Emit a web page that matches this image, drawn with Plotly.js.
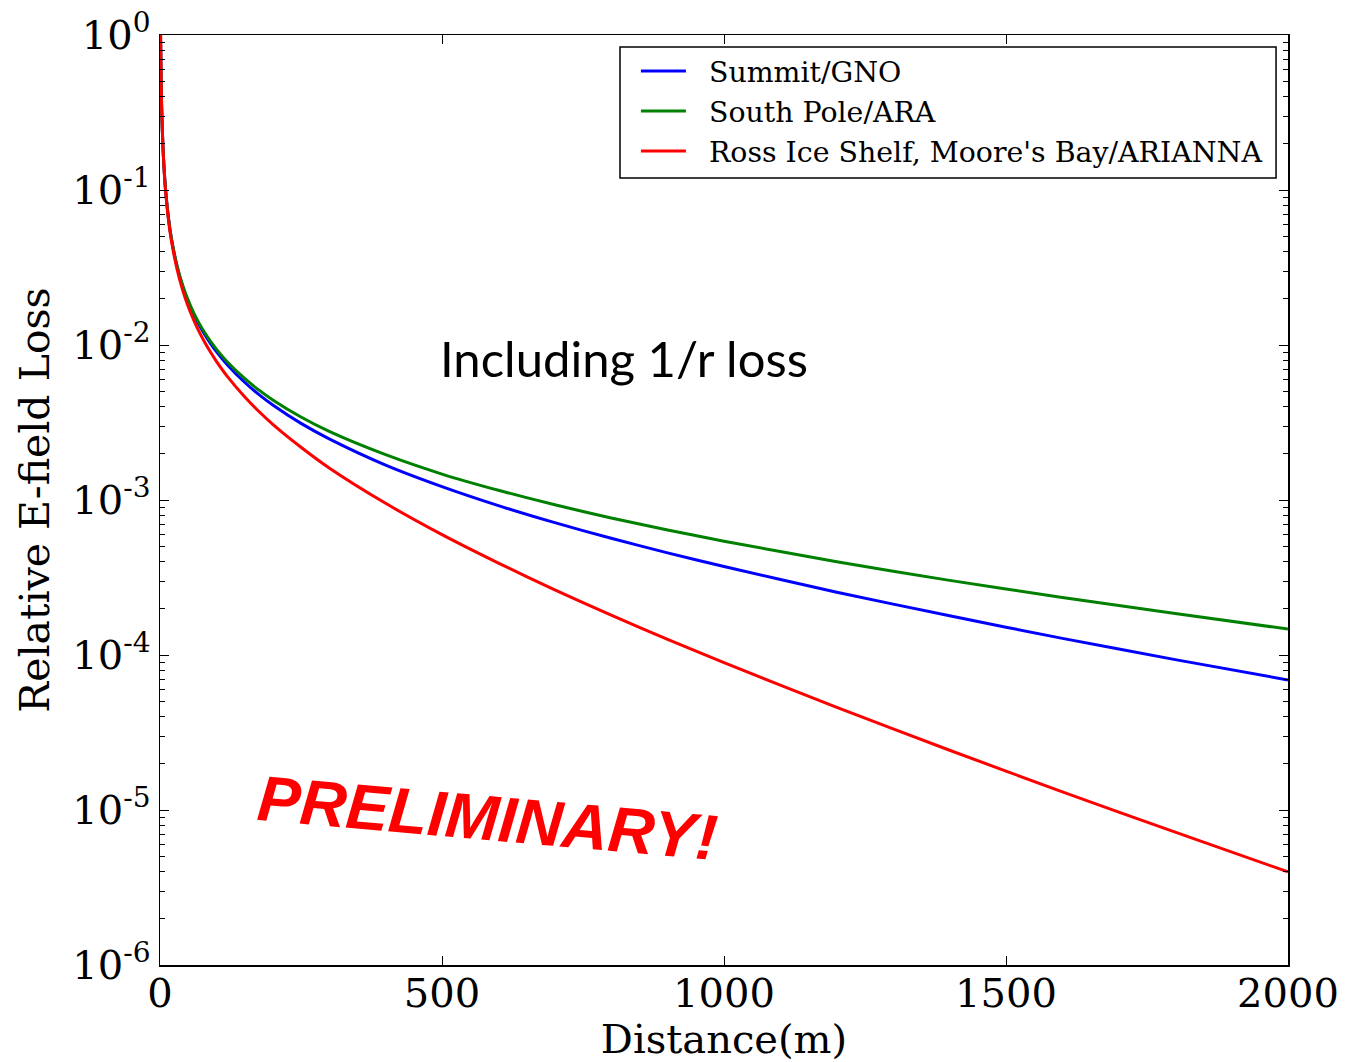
<!DOCTYPE html>
<html>
<head>
<meta charset="utf-8">
<script src="https://cdn.plot.ly/plotly-3.0.1.min.js"></script>
<style>html,body{margin:0;padding:0;background:#fff;}#chart{width:1345px;height:1062px;}</style>
</head>
<body>
<div id="chart"></div>
<script>
// Distances (m)
const distance = [1, 2, 3, 5, 7, 10, 15, 20, 30, 40, 50, 60, 70, 80, 90, 100, 120, 150, 175, 200, 250, 300, 400, 500, 600, 700, 800, 900, 1000, 1200, 1400, 1600, 1800, 2000];
// Relative E-field loss
const summitGNO = [1.0, 0.499, 0.332, 0.199, 0.1419, 0.099, 0.0657, 0.049, 0.0324, 0.0240, 0.0190, 0.0157, 0.01333, 0.01155, 0.01017, 0.00906, 0.0074, 0.00575, 0.0048, 0.0041, 0.00312, 0.00248, 0.00168, 0.00122, 0.00092, 0.000714, 0.000566, 0.000456, 0.000372, 0.000254, 0.000179, 0.000128, 0.0000934, 0.000069];
const southPoleARA = [1.0, 0.499, 0.333, 0.199, 0.1423, 0.0994, 0.0661, 0.0494, 0.0327, 0.0244, 0.0194, 0.01607, 0.01369, 0.0119, 0.01051, 0.00941, 0.00774, 0.00608, 0.00513, 0.00442, 0.00343, 0.00277, 0.00196, 0.00147, 0.001155, 0.000931, 0.000766, 0.000641, 0.000542, 0.000400, 0.000303, 0.000235, 0.000185, 0.000147];
const rossARIANNA = [0.998, 0.495, 0.331, 0.1976, 0.1405, 0.0976, 0.0643, 0.0476, 0.0311, 0.0227, 0.0177, 0.01442, 0.01207, 0.0103, 0.00894, 0.00785, 0.00623, 0.00464, 0.00374, 0.00308, 0.00219, 0.00161, 0.000952, 0.000598, 0.000392, 0.000263, 0.000181, 0.000126, 0.0000893, 0.0000459, 0.0000243, 0.0000131, 0.00000719, 0.00000399];

const seriesNames = ["Summit/GNO", "South Pole/ARA", "Ross Ice Shelf, Moore's Bay/ARIANNA"];
const xTickVals = [0, 500, 1000, 1500, 2000];
const yTickVals = [1e-6, 1e-5, 1e-4, 1e-3, 1e-2, 1e-1, 1];
const yTickText = ["10<sup>-6</sup>", "10<sup>-5</sup>", "10<sup>-4</sup>", "10<sup>-3</sup>", "10<sup>-2</sup>", "10<sup>-1</sup>", "10<sup>0</sup>"];

const serif = "DejaVu Serif, serif";
const pad = "\u00a0\u00a0";
const mk = (y, name, color) => ({
  x: distance, y: y, name: pad + name, type: 'scatter', mode: 'lines',
  line: {color: color, width: 3, shape: 'spline', smoothing: 0.6}
});
const data = [
  mk(summitGNO, seriesNames[0], '#0000ff'),
  mk(southPoleARA, seriesNames[1], '#008000'),
  mk(rossARIANNA, seriesNames[2], '#ff0000')
];

const layout = {
  width: 1345, height: 1062,
  margin: {l: 160, r: 57, t: 35, b: 97},
  paper_bgcolor: '#fff', plot_bgcolor: '#fff',
  showlegend: true,
  legend: {
    x: 0.4219, y: 0.988, xanchor: 'left', yanchor: 'top',
    bgcolor: 'rgba(0,0,0,0)', borderwidth: 0,
    font: {family: serif, size: 28.4, color: '#000'},
    itemwidth: 45
  },
  shapes: [
    {type: 'rect', xref: 'paper', yref: 'paper', x0: 0.4078, x1: 0.9894, y0: 0.8462, y1: 0.9871,
     line: {color: '#000', width: 1.5}, fillcolor: '#fff', layer: 'above'}
  ],
  xaxis: {
    range: [0, 2000], tickmode: 'array', tickvals: xTickVals,
    ticks: 'inside', ticklen: 9, tickwidth: 1, tickcolor: '#000',
    showline: true, linecolor: '#000', linewidth: 1.5, mirror: 'allticks',
    showgrid: false, zeroline: false, ticklabelstandoff: -8,
    tickfont: {family: serif, size: 40, color: '#000'},
    title: {text: 'Distance(m)', font: {family: serif, size: 40, color: '#000'}, standoff: 4}
  },
  yaxis: {
    type: 'log', range: [-6, 0], tickmode: 'array', tickvals: yTickVals, ticktext: yTickText,
    ticks: 'inside', ticklen: 9, tickwidth: 1, tickcolor: '#000',
    minor: {ticks: 'inside', ticklen: 5, tickwidth: 1, tickcolor: '#000', dtick: 'D1', showgrid: false},
    showline: true, linecolor: '#000', linewidth: 1.5, mirror: 'allticks',
    showgrid: false, zeroline: false,
    tickfont: {family: serif, size: 40, color: '#000'},
    title: {text: 'Relative E-field Loss', font: {family: serif, size: 41, color: '#000'}, standoff: 10}
  },
  annotations: [
    {xref: 'paper', yref: 'paper', x: 0.411, y: 0.653, xanchor: 'center', yanchor: 'middle',
     text: 'Including 1/r loss', showarrow: false,
     font: {family: 'Lato, sans-serif', size: 49, color: '#000'}},
    {xref: 'paper', yref: 'paper', x: 0.290, y: 0.158, xanchor: 'center', yanchor: 'middle',
     text: '<b><i>PRELIMINARY!</i></b>', showarrow: false,
     textangle: 5, font: {family: 'Liberation Sans, sans-serif', size: 64, color: '#ff0000'}}
  ]
};

Plotly.newPlot('chart', data, layout, {displayModeBar: false, staticPlot: true});
</script>
</body>
</html>
